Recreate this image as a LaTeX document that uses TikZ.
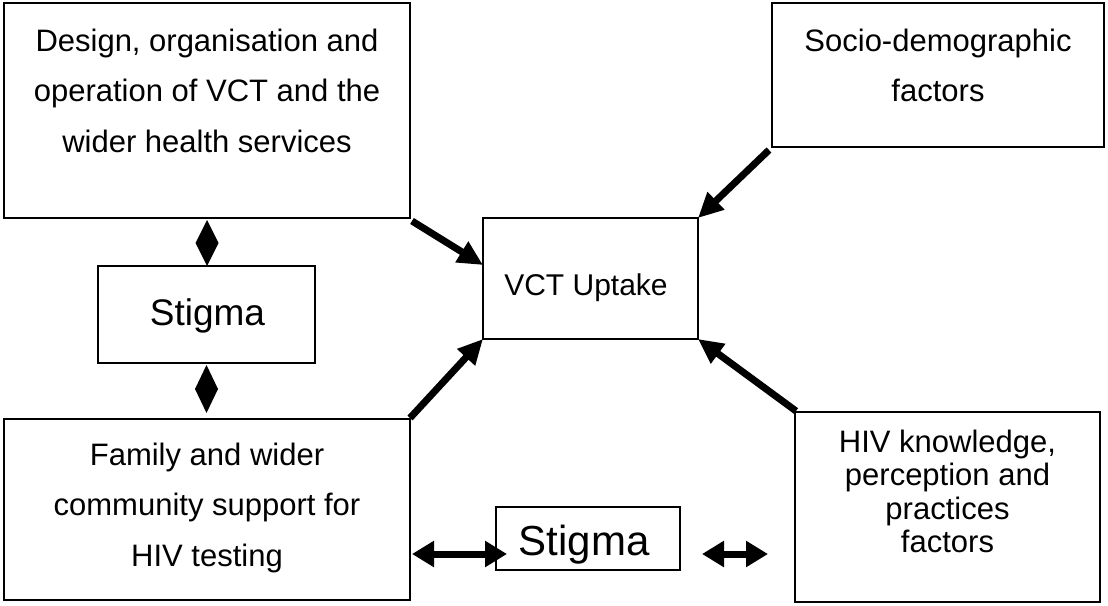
\documentclass[tikz,border=0pt]{standalone}
\usepackage{fontspec}
\setmainfont{Liberation Sans}
\usetikzlibrary{arrows.meta,calc}
\begin{document}
\begin{tikzpicture}[x=1pt,y=-1pt,
  box/.style={draw,line width=1.4pt,inner sep=0pt,outer sep=0pt,anchor=north west},
  txt/.style={inner sep=0pt,outer sep=0pt,align=center,font=\fontsize{31}{50.5}\selectfont},
  txttight/.style={inner sep=0pt,outer sep=0pt,align=center,font=\fontsize{31}{33.5}\selectfont},
  bigtxt/.style={inner sep=0pt,outer sep=0pt,anchor=base},
  flow/.style={line width=7pt,-{Triangle[length=25pt,width=23pt]}},
  both/.style={line width=7pt,{Triangle[length=22pt,width=25pt]}-{Triangle[length=22pt,width=25pt]}},
  dia/.style={fill=black}]
\useasboundingbox (0,0) rectangle (1108,605);
% boxes
\node[box,minimum width=406pt,minimum height=215pt] (design) at (4,3) {};
\node[box,minimum width=332pt,minimum height=144pt] (socio) at (772,3) {};
\node[box,minimum width=215pt,minimum height=121pt] (vct) at (483,218) {};
\node[box,minimum width=217pt,minimum height=97pt] (stigL) at (98,266) {};
\node[box,minimum width=406pt,minimum height=181pt] (family) at (4,419) {};
\node[box,minimum width=184pt,minimum height=63pt] (stigB) at (496,507) {};
\node[box,minimum width=305pt,minimum height=190pt] (hiv) at (795,412) {};
% texts
\node[txt,anchor=north] (designtxt) at ($(design.north)+(0,26)$) {Design, organisation and\\operation of VCT and the\\wider health services};
\node[txt,anchor=north] (sociotxt) at ($(socio.north)+(0,26)$) {Socio-demographic\\factors};
\node[bigtxt,font=\fontsize{30}{36}\selectfont] (vcttxt) at (586,295) {VCT Uptake};
\node[bigtxt,font=\fontsize{37}{44}\selectfont] (stigLtxt) at ($(stigL.north)+(1,59)$) {Stigma};
\node[txt,anchor=north] (familytxt) at ($(family.north)+(0,24)$) {Family and wider\\community support for\\HIV testing};
\node[bigtxt,font=\fontsize{42}{50}\selectfont] (stigBtxt) at (584,555) {Stigma};
\node[txttight,anchor=north] (hivtxt) at ($(hiv.north)+(0,18)$) {HIV knowledge,\\perception and\\practices\\factors};
% diamond links
\fill[dia] ($(design.south)+(0,2)$) -- ++(11.5,23) -- ++(-11.5,23) -- ++(-11.5,-23) -- cycle;
\fill[dia] ($(stigL.south)+(0,2)$) -- ++(11.5,24) -- ++(-11.5,24) -- ++(-11.5,-24) -- cycle;
% arrows into VCT uptake
\coordinate (dA) at ($(design.south east)+(2,3)$);
\coordinate (dB) at ($(vct.north west)+(0,47)$);
\draw[flow] (dA) -- (dB);
\coordinate (sA) at ($(socio.south west)+(-3,3)$);
\draw[flow] (sA) -- (vct.north east);
\coordinate (hA) at ($(hiv.north west)+(1,-1)$);
\draw[flow] (hA) -- (vct.south east);
\coordinate (fA) at ($(family.north east)+(0,-1)$);
\draw[flow] (fA) -- (vct.south west);
% double arrows with bottom stigma
\coordinate (b1) at ($(family.south east)+(2,-46)$);
\coordinate (b2) at ($(stigB.west)+(11,0)$);
\draw[both] (b1) -- (b1 -| b2);
\coordinate (b3) at ($(stigB.east)+(22,0)$);
\coordinate (b4) at ($(hiv.west)+(-27,0)$);
\draw[both] (b1 -| b3) -- (b1 -| b4);
\end{tikzpicture}
\end{document}
